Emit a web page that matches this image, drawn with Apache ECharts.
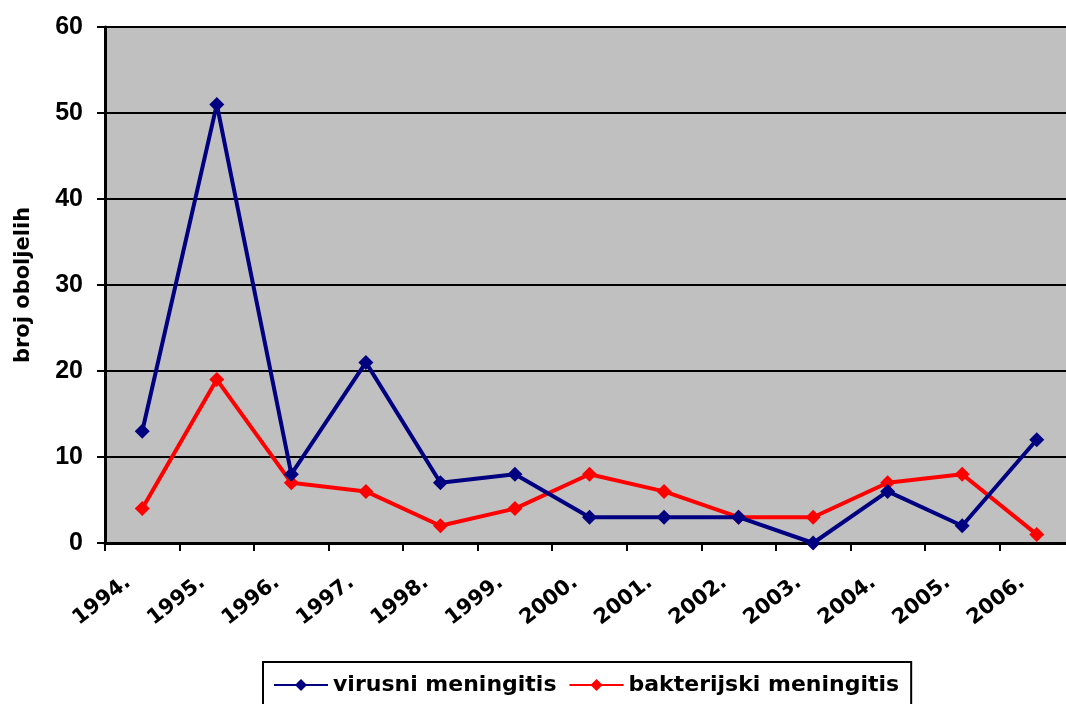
<!DOCTYPE html>
<html>
<head>
<meta charset="utf-8">
<script src="https://cdn.jsdelivr.net/npm/echarts@6/dist/echarts.min.js"></script>
<style>
  html, body { margin: 0; padding: 0; background: #fff; width: 1066px; height: 704px; overflow: hidden; }
  /* the plot area runs a few pixels past the right edge of the page */
  #chart { width: 1074px; height: 704px; }
</style>
</head>
<body>
<div id="chart"></div>
<script>
// Godišnji broj oboljelih od meningitisa, 1994.–2006.
const years = ['1994.', '1995.', '1996.', '1997.', '1998.', '1999.', '2000.',
               '2001.', '2002.', '2003.', '2004.', '2005.', '2006.'];
const virusni = [13, 51, 8, 21, 7, 8, 3, 3, 3, 0, 6, 2, 12];
const bakterijski = [4, 19, 7, 6, 2, 4, 8, 6, 3, 3, 7, 8, 1];
const yTicks = [0, 10, 20, 30, 40, 50, 60];

const ARIAL = '"Liberation Sans", Arial, sans-serif';
const WIDE = '"DejaVu Sans", Verdana, sans-serif';
const chart = echarts.init(document.getElementById('chart'), null, { renderer: 'canvas' });

chart.setOption({
  animation: false,
  backgroundColor: '#ffffff',
  grid: {
    left: 105, top: 27, right: 0, height: 516,
    containLabel: false,
    outerBoundsMode: 'none',
    show: true, backgroundColor: '#c0c0c0', borderWidth: 0
  },
  legend: {
    left: 263, top: 662,
    itemWidth: 54, itemHeight: 15, itemGap: 12,
    padding: [12, 12, 14, 10],
    borderColor: '#000', borderWidth: 2,
    backgroundColor: '#fff',
    textStyle: { fontFamily: WIDE, fontWeight: 'bold', fontSize: 22, color: '#000' },
    data: ['virusni meningitis', 'bakterijski meningitis']
  },
  xAxis: {
    type: 'category',
    data: years,
    boundaryGap: true,
    axisLine: { lineStyle: { color: '#000', width: 3 } },
    axisTick: { show: true, length: 8, lineStyle: { color: '#000', width: 2 } },
    axisLabel: {
      rotate: 38, margin: 26, interval: 0,
      padding: [0, 18, 0, 0],
      fontFamily: WIDE, fontWeight: 'bold', fontSize: 21, color: '#000'
    },
    splitLine: { show: false }
  },
  yAxis: {
    type: 'value',
    min: 0, max: 60, interval: 10,
    name: 'broj oboljelih',
    nameLocation: 'middle',
    nameRotate: 90,
    nameGap: 71,
    nameTextStyle: { fontFamily: WIDE, fontWeight: 'bold', fontSize: 21, color: '#000' },
    axisLine: { show: true, lineStyle: { color: '#000', width: 3 } },
    axisTick: { show: true, inside: false, length: 8, lineStyle: { color: '#000', width: 2 } },
    axisLabel: {
      margin: 22,
      fontFamily: ARIAL, fontWeight: 'bold', fontSize: 25, color: '#000',
      formatter: v => yTicks.includes(v) ? String(v) : ''
    },
    splitLine: { show: true, lineStyle: { color: '#000', width: 2 } }
  },
  series: [
    {
      name: 'virusni meningitis',
      type: 'line',
      data: virusni,
      symbol: 'diamond',
      symbolSize: 15,
      color: '#000080',
      lineStyle: { color: '#000080', width: 4 },
      itemStyle: { color: '#000080' },
      z: 3
    },
    {
      name: 'bakterijski meningitis',
      type: 'line',
      data: bakterijski,
      symbol: 'diamond',
      symbolSize: 15,
      color: '#ff0000',
      lineStyle: { color: '#ff0000', width: 4 },
      itemStyle: { color: '#ff0000' },
      z: 2
    }
  ]
});
</script>
</body>
</html>
